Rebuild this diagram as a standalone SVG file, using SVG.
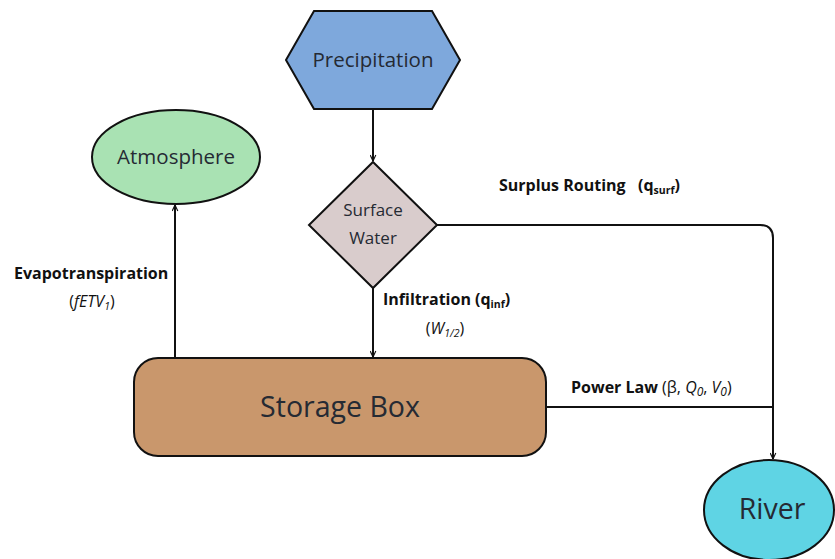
<svg xmlns="http://www.w3.org/2000/svg" width="835" height="559" viewBox="0 0 835 559">
<style>
.edge{fill:none;stroke:#111;stroke-width:2}
.node{stroke:#111;stroke-width:2}
.nt{font-family:"Open Sans","Liberation Sans",sans-serif;fill:#252a33;text-anchor:middle}
.lb{font-family:"Open Sans","Liberation Sans",sans-serif;fill:#111;font-size:16px}
.b{font-weight:bold}
.i{font-style:italic}
</style>
<defs>
<marker id="arr" viewBox="0 0 10 10" refX="9.5" refY="5" markerWidth="7" markerHeight="7" orient="auto" markerUnits="userSpaceOnUse">
<path d="M1,1 L9.5,5 L1,9" fill="none" stroke="#111" stroke-width="1.6"/>
</marker>
</defs>
<rect width="835" height="559" fill="#fff"/>
<g id="connectors">
<line class="edge" x1="373" y1="110" x2="373" y2="161" marker-end="url(#arr)"/>
<line class="edge" x1="373" y1="288" x2="373" y2="357" marker-end="url(#arr)"/>
<line class="edge" x1="175" y1="358" x2="175" y2="205" marker-end="url(#arr)"/>
<path class="edge" d="M437,225 H760 Q773,225 773,238 V459" marker-end="url(#arr)"/>
<line class="edge" x1="546" y1="407" x2="773" y2="407"/>
</g>
<g id="precipitation">
<polygon class="node" points="286,60 314,11 432,11 460,60 432,109 314,109" fill="#7ea8dc"/>
<text class="nt" x="373" y="67" font-size="20.5">Precipitation</text>
</g>
<g id="surface-water">
<polygon class="node" points="373,162 437,225 373,288 309,225" fill="#d9cccc"/>
<text class="nt" x="373" y="216" font-size="17">Surface</text>
<text class="nt" x="373" y="244" font-size="17">Water</text>
</g>
<g id="atmosphere">
<ellipse class="node" cx="176" cy="157" rx="84" ry="47" fill="#a9e2b3"/>
<text class="nt" x="176" y="164" font-size="20.5">Atmosphere</text>
</g>
<g id="storage-box">
<rect class="node" x="134" y="358" width="412" height="98" rx="24" fill="#c9976c"/>
<text class="nt" x="340" y="417" font-size="28.5">Storage Box</text>
</g>
<g id="river">
<ellipse class="node" cx="769" cy="510" rx="65" ry="50" fill="#5fd4e4"/>
<text class="nt" x="772" y="519" font-size="28.5">River</text>
</g>
<g id="labels">
<text class="lb b" x="499" y="191">Surplus Routing&#160;&#160;&#160;(q<tspan font-size="10.5" dy="3">surf</tspan><tspan dy="-3">)</tspan></text>
<text class="lb b" x="14" y="279">Evapotranspiration</text>
<text class="lb" x="92" y="307" text-anchor="middle">(<tspan class="i">fETV<tspan font-size="10.5" dy="3">1</tspan></tspan><tspan dy="-3">)</tspan></text>
<text class="lb b" x="383" y="305">Infiltration (q<tspan font-size="10.5" dy="3">inf</tspan><tspan dy="-3">)</tspan></text>
<text class="lb" x="445" y="334" text-anchor="middle">(<tspan class="i">W<tspan font-size="10.5" dy="3">1/2</tspan></tspan><tspan dy="-3">)</tspan></text>
<text class="lb" x="571" y="393"><tspan class="b">Power Law</tspan> (β,&#160;<tspan class="i">Q<tspan font-size="12" dy="3">0</tspan></tspan><tspan dy="-3">,&#160;</tspan><tspan class="i">V<tspan font-size="12" dy="3">0</tspan></tspan><tspan dy="-3">)</tspan></text>
</g>
</svg>
